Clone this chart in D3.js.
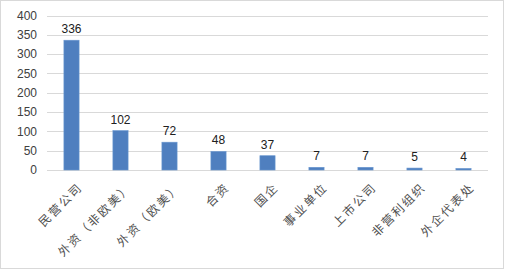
<!DOCTYPE html>
<html>
<head>
  <meta charset="utf-8">
  <script src="https://d3js.org/d3.v7.min.js"></script>
  <style>
    body { margin: 0; background: #fff; }
    .tick-label { font-family: "Liberation Sans", Arial, sans-serif; font-size: 12px; fill: #404040; }
    .value-label { font-family: "Liberation Sans", Arial, sans-serif; font-size: 12px; fill: #202020; text-anchor: middle; }
    .cat-label { font-family: "Noto Sans CJK SC", sans-serif; font-size: 12px; letter-spacing: 2px; fill: #505050; text-anchor: end; }
  </style>
</head>
<body>
  <svg id="chart"></svg>
  <script>
    // Data
    const categories = ["民营公司", "外资（非欧美）", "外资（欧美）", "合资", "国企", "事业单位", "上市公司", "非营利组织", "外企代表处"];
    const counts = [336, 102, 72, 48, 37, 7, 7, 5, 4];
    const yTicks = [0, 50, 100, 150, 200, 250, 300, 350, 400];

    const width = 505;
    const height = 271;

    const svg = d3.select("#chart")
      .attr("width", width)
      .attr("height", height);

    // Outer border
    svg.append("rect")
      .attr("x", 0.5).attr("y", 0.5)
      .attr("width", width - 2).attr("height", height - 3)
      .attr("fill", "#fff")
      .attr("stroke", "#d9d9d9");

    const x = d3.scaleBand()
      .domain(categories)
      .range([47, 488])
      .paddingInner(0.69)
      .paddingOuter(0.345);

    const y = d3.scaleLinear()
      .domain([0, 400])
      .range([170, 15.5]);

    // Gridlines
    svg.append("g")
      .selectAll("line")
      .data(yTicks)
      .join("line")
      .attr("x1", 47).attr("x2", 488)
      .attr("y1", d => Math.round(y(d)) + 0.5)
      .attr("y2", d => Math.round(y(d)) + 0.5)
      .attr("stroke", "#d9d9d9")
      .attr("stroke-width", 1);

    // Y tick labels
    svg.append("g")
      .selectAll("text")
      .data(yTicks)
      .join("text")
      .attr("class", "tick-label")
      .attr("x", 37)
      .attr("y", d => y(d))
      .attr("dy", "0.35em")
      .attr("text-anchor", "end")
      .text(d => d);

    // Bars
    svg.append("g")
      .selectAll("rect")
      .data(counts)
      .join("rect")
      .attr("x", (d, i) => x(categories[i]))
      .attr("y", d => y(d))
      .attr("width", x.bandwidth())
      .attr("height", d => y(0) - y(d))
      .attr("fill", "#4f7fbf")
      .attr("stroke", "#6a97d0")
      .attr("stroke-width", 0.6);

    // Value labels
    svg.append("g")
      .selectAll("text")
      .data(counts)
      .join("text")
      .attr("class", "value-label")
      .attr("x", (d, i) => x(categories[i]) + x.bandwidth() / 2)
      .attr("y", d => y(d) - 7)
      .text(d => d);

    // Category labels, rotated -45
    svg.append("g")
      .selectAll("text")
      .data(categories)
      .join("text")
      .attr("class", "cat-label")
      .attr("transform", d => `translate(${x(d) + x.bandwidth() / 2 + 9},${185}) rotate(-45)`)
      .attr("dy", "0.35em")
      .text(d => d);
  </script>
</body>
</html>
